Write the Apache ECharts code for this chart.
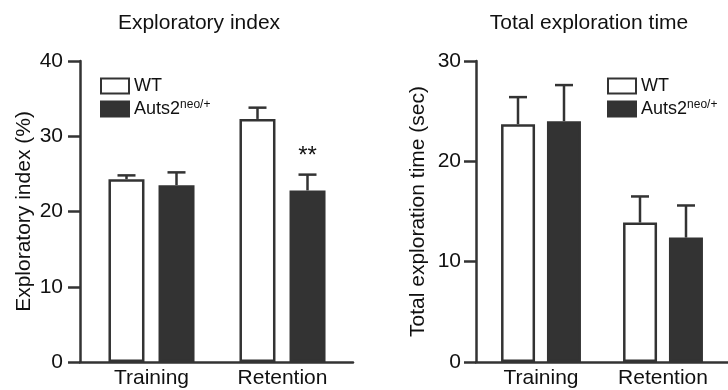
<!DOCTYPE html>
<html>
<head>
<meta charset="utf-8">
<script src="https://cdn.jsdelivr.net/npm/echarts@6/dist/echarts.min.js"></script>
<style>
html,body{margin:0;padding:0;background:#fff;}
#c{width:728px;height:390px;}
</style>
</head>
<body>
<div id="c"></div>
<script>
// ---- data ----
const categories = ['Training', 'Retention'];
const seriesNames = ['WT', 'Auts2neo/+'];
// Exploratory index (%)
const indexWT = [24.3, 32.3];
const indexWTErr = [0.5, 1.5];
const indexKO = [23.5, 22.8];
const indexKOErr = [1.7, 2.1];
const indexKOSig = ['', '**'];
const indexTicks = { min: 0, max: 40, interval: 10 };
// Total exploration time (sec)
const timeWT = [23.7, 13.9];
const timeWTErr = [2.7, 2.6];
const timeKO = [24.0, 12.4];
const timeKOErr = [3.6, 3.2];
const timeTicks = { min: 0, max: 30, interval: 10 };

// ---- style ----
const INK = '#333333';
const TXT = '#111111';
const FONT = '"Liberation Sans", Arial, Helvetica, sans-serif';
const FS = 21;

function errSeries(name, xi, yi, vals, errs, sigs, offset, capW) {
  return {
    type: 'custom', name: name, xAxisIndex: xi, yAxisIndex: yi, z: 5, silent: true,
    data: vals.map((v, i) => [i, v, errs[i]]),
    renderItem: function (params, api) {
      const c = api.value(0), v = api.value(1), e = api.value(2);
      const p0 = api.coord([c, v]);
      const p1 = api.coord([c, v + e]);
      const x = p0[0] + offset;
      const st = { stroke: INK, lineWidth: 2.5 };
      const children = [
        { type: 'line', shape: { x1: x, y1: p0[1], x2: x, y2: p1[1] }, style: st },
        { type: 'line', shape: { x1: x - capW / 2, y1: p1[1], x2: x + capW / 2, y2: p1[1] }, style: st }
      ];
      const s = sigs ? sigs[params.dataIndex] : '';
      if (s) {
        children.push({ type: 'text', style: { text: s, x: x, y: p1[1] - 6, align: 'center', verticalAlign: 'bottom', fontSize: 24, fontFamily: FONT, fill: TXT } });
      }
      return { type: 'group', children: children };
    }
  };
}

const legendFormatter = function (n) { return n === 'Auts2neo/+' ? '{a|Auts2}{s|neo/+}' : '{a|' + n + '}'; };
const legendRich = {
  a: { fontSize: 18, fontFamily: FONT, color: TXT, lineHeight: 20 },
  s: { fontSize: 12, fontFamily: FONT, color: TXT, lineHeight: 20, verticalAlign: 'top', padding: [0, 0, 6, 0] }
};
function legendAt(left, top) {
  return {
    left: left, top: top, padding: 0, orient: 'vertical', icon: 'rect', itemWidth: 28, itemHeight: 15, itemGap: 4,
    selectedMode: false, data: seriesNames, formatter: legendFormatter,
    textStyle: { rich: legendRich, fontSize: 18, fontFamily: FONT, color: TXT }
  };
}

function frameY(ticks, gridIndex, name, gap, margin) {
  return {
    type: 'value', gridIndex: gridIndex, min: ticks.min, max: ticks.max, interval: ticks.interval,
    name: name, nameLocation: 'middle', nameGap: gap, nameRotate: 90,
    nameTextStyle: { fontSize: FS, fontFamily: FONT, color: TXT },
    axisLine: { show: true, lineStyle: { color: INK, width: 2.5 } },
    axisTick: { show: true, inside: false, length: 12, lineStyle: { color: INK, width: 2.5 } },
    axisLabel: { fontSize: FS, fontFamily: FONT, color: TXT, margin: margin },
    splitLine: { show: false }
  };
}
function hiddenY(ticks, gridIndex) {
  return { type: 'value', gridIndex: gridIndex, min: ticks.min, max: ticks.max, interval: ticks.interval, show: false, splitLine: { show: false } };
}
function frameX(gridIndex) {
  return {
    type: 'category', gridIndex: gridIndex, data: categories,
    axisLine: { show: true, lineStyle: { color: INK, width: 2.5 } },
    axisTick: { show: false }, axisLabel: { show: false }
  };
}
function barX(gridIndex) {
  return {
    type: 'category', gridIndex: gridIndex, data: categories,
    axisLine: { show: false }, axisTick: { show: false },
    axisLabel: { fontSize: FS, fontFamily: FONT, color: TXT, margin: 6 }
  };
}

const wtStyle = { color: '#ffffff', borderColor: INK, borderWidth: 2.5 };
const koStyle = { color: INK, borderColor: INK, borderWidth: 2.5 };

const option = {
  animation: false,
  backgroundColor: '#ffffff',
  title: [
    { text: 'Exploratory index', left: 194, top: 8, textAlign: 'center', textStyle: { fontSize: FS, fontWeight: 'normal', fontFamily: FONT, color: TXT } },
    { text: 'Total exploration time', left: 584, top: 8, textAlign: 'center', textStyle: { fontSize: FS, fontWeight: 'normal', fontFamily: FONT, color: TXT } }
  ],
  legend: [legendAt(100, 77), legendAt(607, 77)],
  grid: [
    { left: 80, right: 375, top: 61, bottom: 28 },
    { left: 86, right: 380, top: 61, bottom: 28 },
    { left: 476, right: 0, top: 61, bottom: 28 },
    { left: 480, right: 4, top: 61, bottom: 28 }
  ],
  xAxis: [frameX(0), barX(1), frameX(2), barX(3)],
  yAxis: [
    frameY(indexTicks, 0, 'Exploratory index (%)', 45, 17),
    hiddenY(indexTicks, 1),
    frameY(timeTicks, 2, 'Total exploration time (sec)', 47, 15),
    hiddenY(timeTicks, 3)
  ],
  series: [
    { type: 'bar', name: 'WT', xAxisIndex: 1, yAxisIndex: 1, data: indexWT, barWidth: 36, barGap: '39%', itemStyle: wtStyle },
    { type: 'bar', name: 'Auts2neo/+', xAxisIndex: 1, yAxisIndex: 1, data: indexKO, barWidth: 36, barGap: '39%', itemStyle: koStyle },
    errSeries('WT', 1, 1, indexWT, indexWTErr, null, -25, 18),
    errSeries('Auts2neo/+', 1, 1, indexKO, indexKOErr, indexKOSig, 25, 18),
    { type: 'bar', name: 'WT', xAxisIndex: 3, yAxisIndex: 3, data: timeWT, barWidth: 34, barGap: '35%', itemStyle: wtStyle },
    { type: 'bar', name: 'Auts2neo/+', xAxisIndex: 3, yAxisIndex: 3, data: timeKO, barWidth: 34, barGap: '35%', itemStyle: koStyle },
    errSeries('WT', 3, 3, timeWT, timeWTErr, null, -23, 18),
    errSeries('Auts2neo/+', 3, 3, timeKO, timeKOErr, null, 23, 18)
  ]
};

const chart = echarts.init(document.getElementById('c'), null, { renderer: 'canvas' });
chart.setOption(option);
</script>
</body>
</html>
